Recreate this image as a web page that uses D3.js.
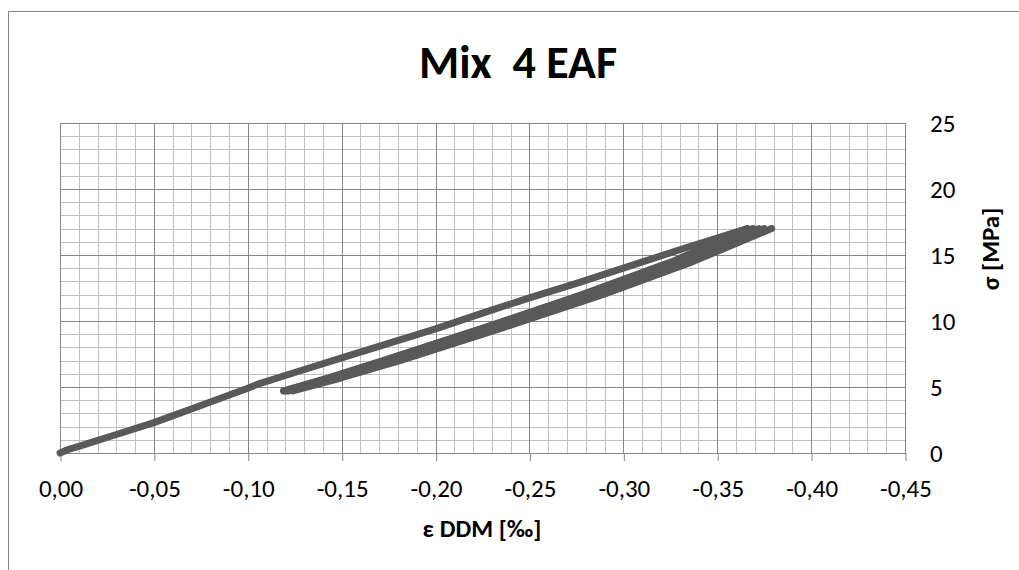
<!DOCTYPE html>
<html>
<head>
<meta charset="utf-8">
<script src="https://cdn.jsdelivr.net/npm/d3@7"></script>
<style>
  html, body { margin: 0; padding: 0; background: #fff; }
  svg { display: block; }
  text { font-family: Carlito, "Open Sans", sans-serif; fill: #000; white-space: pre; }
</style>
</head>
<body>
<svg id="chart" width="1019" height="570"></svg>
<script>
// ---- data ----
const title = "Mix  4 EAF";
const xLabel = "ε DDM [‰]";
const yLabel = "σ [MPa]";

const xTicks = [0, -0.05, -0.10, -0.15, -0.20, -0.25, -0.30, -0.35, -0.40, -0.45];
const xTickLabels = ["0,00", "-0,05", "-0,10", "-0,15", "-0,20", "-0,25", "-0,30", "-0,35", "-0,40", "-0,45"];
const yTicks = [0, 5, 10, 15, 20, 25];
const yTickLabels = ["0", "5", "10", "15", "20", "25"];

// first loading branch
const loadEps = [0, -0.005, -0.010, -0.030, -0.050, -0.075, -0.100, -0.105, -0.125, -0.150, -0.175, -0.200, -0.225, -0.250, -0.275, -0.300, -0.330, -0.366];
const loadSig = [0, 0.3, 0.5, 1.4, 2.3, 3.6, 4.9, 5.2, 6.1, 7.2, 8.3, 9.4, 10.6, 11.75, 12.85, 14.0, 15.4, 17.0];

// cyclic branches (stress levels shared)
const cycSig = [17.0, 14.5, 12.0, 9.5, 7.0, 5.7, 4.7];
const unload1Eps = [-0.366, -0.326, -0.278, -0.226, -0.172, -0.143, -0.119];
const reload1Eps = [-0.369, -0.327, -0.279, -0.227, -0.173, -0.144, -0.120];
const unload2Eps = [-0.372, -0.331, -0.283, -0.230, -0.176, -0.146, -0.121];
const reload2Eps = [-0.375, -0.333, -0.285, -0.232, -0.178, -0.148, -0.122];
const unload3Eps = [-0.379, -0.337, -0.289, -0.236, -0.181, -0.150, -0.124];

// ---- layout ----
const svg = d3.select("#chart");
const L = 60, R = 905, T = 123, B = 453;

const x = d3.scaleLinear().domain([0, -0.45]).range([L, R]);
const y = d3.scaleLinear().domain([0, 25]).range([B, T]);
const px = v => Math.round(v) + 0.5;
const FONT = "Carlito, 'Open Sans', sans-serif";

// outer frame
svg.append("path")
  .attr("d", `M8.5,570 V11.5 H1019`)
  .attr("fill", "none").attr("stroke", "#868686").attr("stroke-width", 1);

// title
svg.append("text")
  .attr("x", 518).attr("y", 78)
  .attr("text-anchor", "middle")
  .style("font-size", "46px").style("font-weight", "bold")
  .text(title);

// grid
const grid = svg.append("g");
const xMinor = x.ticks(45);
const yMinor = y.ticks(25);
grid.selectAll(".vx").data(xMinor).join("line")
  .attr("x1", d => px(x(d))).attr("x2", d => px(x(d)))
  .attr("y1", T).attr("y2", B)
  .attr("stroke", "#c0c0c0").attr("stroke-width", 1);
grid.selectAll(".hy").data(yMinor).join("line")
  .attr("class", "hy")
  .attr("x1", L).attr("x2", R + 1)
  .attr("y1", d => px(y(d))).attr("y2", d => px(y(d)))
  .attr("stroke", "#c0c0c0").attr("stroke-width", 1);
grid.selectAll(".mx").data(xTicks).join("line")
  .attr("class", "mx")
  .attr("x1", d => px(x(d))).attr("x2", d => px(x(d)))
  .attr("y1", T).attr("y2", B)
  .attr("stroke", "#868686").attr("stroke-width", 1);
grid.selectAll(".my").data(yTicks).join("line")
  .attr("class", "my")
  .attr("x1", L).attr("x2", R + 1)
  .attr("y1", d => px(y(d))).attr("y2", d => px(y(d)))
  .attr("stroke", "#868686").attr("stroke-width", 1);

// x axis
const xAxis = d3.axisBottom(x).tickValues(xTicks)
  .tickFormat((d, i) => xTickLabels[i]).tickSizeInner(8).tickSizeOuter(0);
const gx = svg.append("g").attr("transform", `translate(0.5,${px(B) - 0.5})`).call(xAxis);
gx.select(".domain").attr("stroke", "#868686");
gx.selectAll(".tick line").attr("stroke", "#868686");
gx.selectAll(".tick text").attr("y", 44).attr("dy", 0)
  .style("font-size", "25px").style("font-family", FONT).attr("fill", "#000");

// y axis (right)
const yAxis = d3.axisRight(y).tickValues(yTicks)
  .tickFormat((d, i) => yTickLabels[i]).tickSize(0).tickPadding(25);
const gy = svg.append("g").attr("transform", `translate(${R},0)`).call(yAxis);
gy.select(".domain").remove();
gy.selectAll(".tick text").attr("dy", "0.33em")
  .style("font-size", "25px").style("font-family", FONT).attr("fill", "#000");

// axis titles
svg.append("text")
  .attr("x", 482).attr("y", 537)
  .attr("text-anchor", "middle")
  .style("font-size", "25px").style("font-weight", "bold")
  .text(xLabel);
svg.append("text")
  .attr("transform", "translate(999,249) rotate(-90)")
  .attr("text-anchor", "middle")
  .style("font-size", "25px").style("font-weight", "bold")
  .text(yLabel);

// data
const line = d3.line().x(d => x(d[0])).y(d => y(d[1]));
const branches = [
  d3.zip(loadEps, loadSig),
  d3.zip(unload1Eps, cycSig),
  d3.zip(reload1Eps, cycSig),
  d3.zip(unload2Eps, cycSig),
  d3.zip(reload2Eps, cycSig),
  d3.zip(unload3Eps, cycSig)
];
svg.append("g").selectAll("path").data(branches).join("path")
  .attr("d", line)
  .attr("fill", "none")
  .attr("stroke", "#595959")
  .attr("stroke-width", 7)
  .attr("stroke-linecap", "round")
  .attr("stroke-linejoin", "round");
</script>
</body>
</html>
